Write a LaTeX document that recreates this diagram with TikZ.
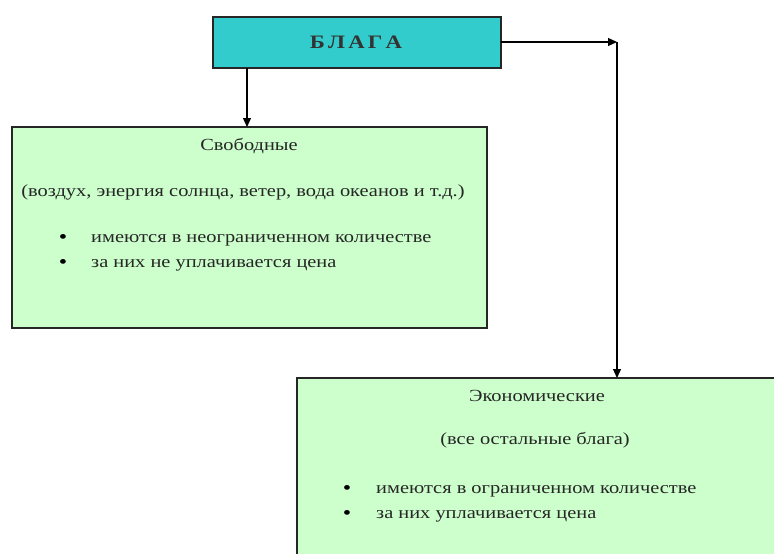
\documentclass[tikz,border=0pt]{standalone}
\usepackage{fontspec}
\setmainfont[FakeStretch=1.2]{Liberation Serif}
\usetikzlibrary{arrows.meta}
\definecolor{teal1}{HTML}{33CCCC}
\definecolor{pgreen}{HTML}{CCFFCC}
\tikzset{
  box/.style={draw=black!85, line width=1.6pt},
  conn/.style={draw=black, line width=1.2pt, -{Triangle[length=9pt,width=8pt]}},
  txt/.style={font=\fontsize{17}{20}\selectfont, inner sep=0pt, text=black!85},
  bul/.style={font=\fontsize{20}{20}\selectfont, inner sep=0pt, anchor=base},
}
\begin{document}
\begin{tikzpicture}[x=1pt,y=-1pt]
\useasboundingbox (0,0) rectangle (774,554);
\clip (0,0) rectangle (774,554);
\path[box, fill=teal1] (213,17) rectangle (501,68);
\node (blaga) [font=\fontsize{19}{22}\selectfont\bfseries, inner sep=0pt, text=black!80] at (356,42) {Б\,Л\,А\,Г\,А};
\path[box, fill=pgreen] (12,127) rectangle (487,328);
\path[box, fill=pgreen] (297,378) rectangle (790,570);
\coordinate (b1) at (247,68);
\coordinate (f1) at (247,127);
\coordinate (r0) at (501,42);
\coordinate (r1) at (617,42);
\coordinate (e1) at (617,378);
\draw[conn] (b1) -- (f1);
\draw[conn] (r0) -- (r1);
\draw[conn] (r1) -- (e1);
\node[txt, anchor=base] (t1) at (249,150) {Свободные};
\node[txt, anchor=base] (t2) at (243,196) {(воздух, энергия солнца, ветер, вода океанов и т.д.)};
\node[bul] (bu1) at (63,243) {•};
\node[txt, anchor=base west] (s1) at (91,242) {имеются в неограниченном количестве};
\node[bul] (bu2) at (63,268) {•};
\node[txt, anchor=base west] (s2) at (91,267) {за них не уплачивается цена};
\node[txt, anchor=base] (t3) at (537,401) {Экономические};
\node[txt, anchor=base] (t4) at (535,444) {(все остальные блага)};
\node[bul] (bu3) at (347,494) {•};
\node[txt, anchor=base west] (s3) at (376,493) {имеются в ограниченном количестве};
\node[bul] (bu4) at (347,519) {•};
\node[txt, anchor=base west] (s4) at (376,518) {за них уплачивается цена};
\end{tikzpicture}
\end{document}
